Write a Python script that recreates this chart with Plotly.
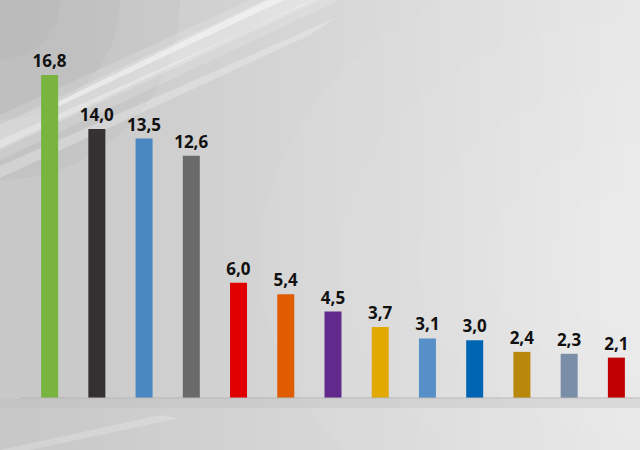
import plotly.graph_objects as go

# data
categories = ["1", "2", "3", "4", "5", "6", "7", "8", "9", "10", "11", "12", "13"]
values = [16.8, 14.0, 13.5, 12.6, 6.0, 5.4, 4.5, 3.7, 3.1, 3.0, 2.4, 2.3, 2.1]
bar_colors = ["#78b43f", "#353132", "#4a88c2", "#6a6a6a", "#e00000", "#e05c00",
              "#622a8c", "#e2a900", "#5790c8", "#0066b3", "#b8880a", "#7a8ea8", "#c00000"]
labels = [f"{v:.1f}".replace(".", ",") for v in values]

W, H = 640, 450
ML, MR, MT, MB = 26, 0, 52, 52


def px(x):
    return (x - ML) / (W - ML - MR)


def py(y):
    return (H - MB - y) / (H - MT - MB)


fig = go.Figure()
fig.add_trace(go.Bar(
    x=categories,
    y=values,
    marker=dict(color=bar_colors, line=dict(width=0)),
    text=labels,
    textposition="outside",
    constraintext="none",
    textfont=dict(family="Open Sans", size=17, color="#111111", weight="bold"),
    cliponaxis=False,
    hoverinfo="skip",
))

shapes = []
# background gradient, dark left -> light right
n = 32
for i in range(n):
    g = int(200 + (230 - 200) * i / (n - 1))
    shapes.append(dict(type="rect", xref="paper", yref="paper",
                       x0=px(i * W / n), x1=px((i + 1) * W / n + 1), y0=py(H), y1=py(0),
                       fillcolor=f"rgb({g},{g},{g})", line_width=0, layer="below"))
# light glow on the right
for r in (90, 150, 220, 300, 380):
    shapes.append(dict(type="circle", xref="paper", yref="paper",
                       x0=px(640 - r), x1=px(640 + r), y0=py(260 + r * 0.8), y1=py(260 - r * 0.8),
                       fillcolor="rgba(255,255,255,0.05)", line_width=0, layer="below"))
# darker top-left corner
for r in (60, 120, 180):
    shapes.append(dict(type="circle", xref="paper", yref="paper",
                       x0=px(-r), x1=px(r), y0=py(r), y1=py(-r),
                       fillcolor="rgba(120,120,120,0.05)", line_width=0, layer="below"))
# light streaks top-left
streaks = [
    ((0, 160), (340, 0), (250, 0), (0, 115), 0.15),
    ((0, 150), (320, 0), (265, 0), (0, 125), 0.2),
    ((0, 178), (310, 35), (335, 18), (0, 166), 0.25),
    ((45, 108), (268, 0), (284, 0), (55, 108), 0.45),
    ((0, 148), (300, 5), (315, 0), (0, 140), 0.3),
]
for a, b, c, d, op in streaks:
    shapes.append(dict(type="path", xref="paper", yref="paper",
                       path=(f"M {px(a[0])},{py(a[1])} L {px(b[0])},{py(b[1])} "
                             f"L {px(c[0])},{py(c[1])} L {px(d[0])},{py(d[1])} Z"),
                       fillcolor=f"rgba(255,255,255,{op})", line_width=0, layer="below"))
# faint streak on the floor
shapes.append(dict(type="path", xref="paper", yref="paper",
                   path=f"M {px(0)},{py(450)} L {px(160)},{py(415)} L {px(180)},{py(418)} L {px(30)},{py(450)} Z",
                   fillcolor="rgba(255,255,255,0.2)", line_width=0, layer="below"))
# band just below the baseline
shapes.append(dict(type="rect", xref="paper", yref="paper",
                   x0=px(0), x1=px(640), y0=py(408), y1=py(399),
                   fillcolor="rgba(190,190,190,0.35)", line_width=0, layer="below"))
# baseline
shapes.append(dict(type="line", xref="paper", yref="paper",
                   x0=px(20), x1=px(640), y0=0, y1=0,
                   line=dict(color="#b4b4b4", width=1), layer="above"))

fig.update_layout(
    width=W, height=H,
    margin=dict(l=ML, r=MR, t=MT, b=MB),
    paper_bgcolor="#d6d6d6",
    plot_bgcolor="rgba(0,0,0,0)",
    bargap=0.64,
    showlegend=False,
    shapes=shapes,
    xaxis=dict(showticklabels=False, showgrid=False, zeroline=False, showline=False, ticks=""),
    yaxis=dict(range=[0, 18], showticklabels=False, showgrid=False, zeroline=False,
               showline=False, ticks=""),
)

fig.write_html("out.html", config={"displayModeBar": False},
               post_script="document.body.style.margin='0';")
